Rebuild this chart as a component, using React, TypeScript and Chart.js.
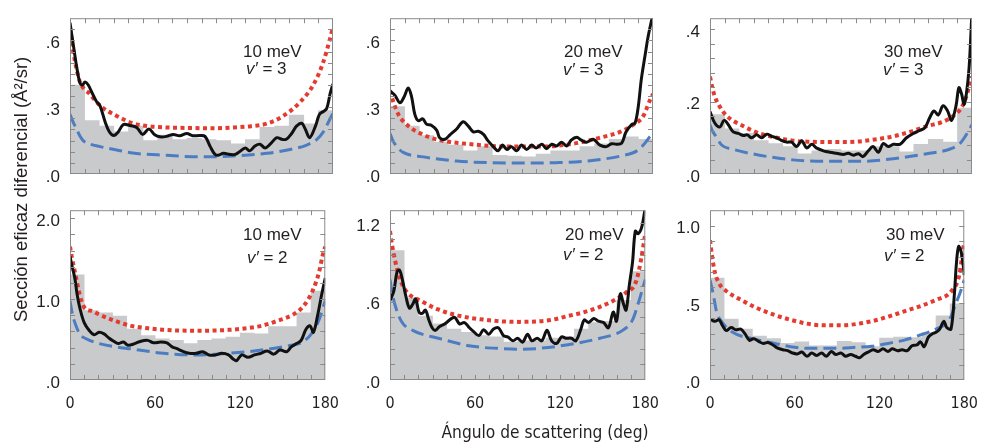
import React, { useEffect, useRef } from "react";
import { Chart, registerables } from "chart.js";

Chart.register(...registerables);

type Pt = [number, number];

// ---------------- DATA ----------------
const ANGLE_TICKS = [0, 60, 120, 180];
const BIN_CENTERS = [5, 15, 25, 35, 45, 55, 65, 75, 85, 95, 105, 115, 125, 135, 145, 155, 165, 175];

const ENERGY_LABELS = ["10 meV", "20 meV", "30 meV", "10 meV", "20 meV", "30 meV"];
const V_LABELS = ["3", "3", "3", "2", "2", "2"];

// Panel 1: 10 meV, v' = 3
const P1_HIST = [0.40, 0.24, 0.215, 0.19, 0.215, 0.15, 0.175, 0.155, 0.16, 0.155, 0.15, 0.135, 0.155, 0.21, 0.215, 0.265, 0.225, 0.285];
const P1_EXP: Pt[] = [[0,0.68],[2.5,0.57],[4.6,0.48],[6.8,0.41],[8.5,0.40],[10.3,0.413],[12.5,0.40],[15,0.366],[18,0.327],[20.5,0.307],[24,0.235],[27,0.189],[30,0.173],[33,0.189],[36.5,0.222],[41,0.218],[45.6,0.209],[49.7,0.178],[54,0.202],[58,0.176],[61.6,0.167],[66,0.169],[70.7,0.178],[75,0.172],[80,0.182],[84,0.172],[89,0.173],[92.4,0.169],[96,0.123],[99,0.09],[101.5,0.084],[105,0.093],[109.5,0.088],[113,0.088],[116,0.10],[120,0.117],[123,0.104],[126.6,0.126],[130,0.134],[133.5,0.117],[137,0.134],[141.5,0.163],[145,0.156],[148,0.156],[151.7,0.182],[155,0.215],[158.6,0.228],[161,0.202],[164,0.163],[168,0.215],[170.7,0.268],[173.4,0.281],[175.7,0.294],[178,0.36],[180,0.405]];
const P1_RED: Pt[] = [[0,0.66],[2,0.56],[4.5,0.47],[7,0.41],[10,0.38],[12.5,0.366],[20.5,0.307],[32,0.261],[43,0.228],[55,0.214],[66,0.209],[80,0.207],[90,0.206],[100,0.206],[112,0.209],[124,0.215],[134.6,0.226],[146,0.261],[157,0.32],[166.5,0.40],[173.4,0.504],[178,0.609],[180,0.66]];
const P1_BLUE: Pt[] = [[0,0.268],[2,0.235],[4.5,0.202],[7,0.168],[9,0.15],[13.7,0.134],[20.5,0.123],[32,0.108],[43,0.094],[66,0.084],[89,0.077],[112,0.081],[134.6,0.093],[150.6,0.11],[162,0.13],[169,0.156],[173.4,0.189],[177,0.235],[180,0.274]];

// Panel 2: 20 meV, v' = 3
const P2_HIST = [0.303, 0.215, 0.173, 0.143, 0.13, 0.104, 0.123, 0.084, 0.08, 0.077, 0.09, 0.104, 0.104, 0.123, 0.136, 0.156, 0.167, 0.156];
const P2_EXP: Pt[] = [[0,0.373],[3.4,0.353],[6.8,0.32],[9.6,0.346],[12.5,0.386],[14.8,0.346],[17,0.268],[19.4,0.239],[22.4,0.248],[25,0.224],[28.5,0.218],[32,0.196],[34,0.163],[37.6,0.156],[41,0.176],[45.6,0.202],[50,0.235],[53.6,0.215],[57,0.189],[60.5,0.192],[64,0.178],[67,0.15],[70.7,0.123],[74,0.104],[77,0.13],[80,0.11],[83,0.123],[86.7,0.104],[90,0.13],[93.5,0.11],[97,0.13],[100,0.117],[104,0.134],[107,0.114],[110.7,0.134],[114,0.126],[117.5,0.143],[121,0.126],[124,0.152],[127.8,0.165],[131,0.152],[134.6,0.143],[139,0.156],[143.7,0.13],[148,0.123],[151.7,0.136],[155,0.134],[158.6,0.139],[161.5,0.189],[165.4,0.222],[167.7,0.228],[170,0.307],[172,0.425],[174.5,0.53],[176.8,0.622],[180,0.72]];
const P2_RED: Pt[] = [[0,0.373],[2.5,0.32],[5.7,0.268],[11.4,0.222],[22.8,0.176],[34,0.152],[57,0.133],[80,0.123],[102.7,0.123],[125.5,0.136],[143.7,0.163],[157.4,0.189],[166.5,0.222],[173.4,0.261],[178,0.333],[180,0.36]];
const P2_BLUE: Pt[] = [[0,0.182],[2,0.15],[4.6,0.123],[9,0.097],[22.8,0.077],[45.6,0.058],[68,0.051],[91,0.049],[114,0.051],[137,0.06],[160,0.084],[169,0.104],[173.4,0.13],[178,0.169],[180,0.182]];

// Panel 3: 30 meV, v' = 3
const P3_HIST = [0.164, 0.125, 0.112, 0.092, 0.084, 0.076, 0.056, 0.064, 0.068, 0.064, 0.064, 0.076, 0.076, 0.061, 0.082, 0.096, 0.088, 0.182];
const P3_EXP: Pt[] = [[0,0.172],[3.4,0.14],[6.9,0.13],[9.6,0.148],[12.6,0.136],[16,0.116],[19.5,0.112],[23,0.106],[25.6,0.108],[28.6,0.1],[32,0.108],[35.5,0.1],[39,0.11],[42.4,0.104],[45.8,0.1],[49,0.093],[52.7,0.088],[56,0.088],[59.5,0.076],[63,0.092],[66.4,0.072],[70,0.082],[73,0.072],[78,0.064],[82.4,0.06],[87,0.057],[91.6,0.054],[95,0.057],[98.5,0.052],[102,0.056],[105,0.048],[108.8,0.064],[112,0.076],[115.6,0.06],[119,0.084],[122.5,0.076],[126,0.082],[130.5,0.082],[135,0.1],[139.7,0.112],[144,0.12],[147.7,0.128],[151,0.156],[153.9,0.174],[156.9,0.163],[160,0.188],[163,0.176],[166,0.148],[169,0.188],[171,0.238],[172.9,0.22],[174.5,0.192],[176,0.217],[178,0.293],[180,0.45]];
const P3_RED: Pt[] = [[0,0.269],[1.5,0.24],[3.4,0.213],[7,0.184],[11.5,0.16],[23,0.132],[34,0.112],[46,0.1],[57,0.092],[68.7,0.089],[80,0.088],[91.6,0.088],[103,0.09],[114.5,0.096],[126,0.104],[137,0.116],[149,0.132],[160,0.144],[167,0.16],[172.9,0.184],[176,0.213],[178,0.24],[180,0.269]];
const P3_BLUE: Pt[] = [[0,0.136],[1.5,0.12],[3.4,0.108],[8,0.08],[16,0.068],[34,0.052],[57,0.039],[80,0.035],[103,0.035],[126,0.042],[149,0.056],[165,0.069],[171.7,0.084],[176,0.108],[180,0.136]];

// Panel 4: 10 meV, v' = 2
const P4_HIST = [1.3, 0.86, 0.83, 0.79, 0.63, 0.55, 0.51, 0.49, 0.45, 0.49, 0.51, 0.53, 0.58, 0.57, 0.66, 0.66, 0.83, 1.1];
const P4_EXP: Pt[] = [[0,1.53],[1.5,1.4],[3.4,1.26],[5,1.06],[6.8,0.9],[10,0.71],[13.7,0.61],[17,0.56],[20.5,0.59],[24,0.57],[27.4,0.52],[30.8,0.48],[34,0.45],[37.6,0.47],[41,0.43],[45.6,0.45],[50,0.48],[54.8,0.49],[59,0.46],[64,0.47],[68.4,0.46],[72,0.41],[75,0.39],[80,0.35],[84,0.33],[89,0.33],[93.5,0.35],[98,0.31],[102.7,0.31],[107,0.33],[111.8,0.31],[115,0.26],[117.5,0.24],[121,0.31],[125.5,0.28],[130,0.31],[134.6,0.33],[139,0.36],[143.7,0.32],[148,0.37],[152.8,0.35],[156,0.41],[159.7,0.45],[163,0.49],[166.5,0.63],[169.3,0.67],[171.6,0.59],[174.5,0.79],[177.5,1.06],[180,1.26]];
const P4_RED: Pt[] = [[0,1.65],[1.5,1.5],[3.4,1.34],[6.8,1.06],[10,0.9],[16,0.85],[20.5,0.81],[32,0.73],[43,0.67],[55,0.64],[66,0.62],[89,0.61],[112,0.62],[135,0.67],[146,0.73],[157.4,0.81],[164,0.9],[171,1.1],[175.7,1.34],[178,1.53],[180,1.65]];
const P4_BLUE: Pt[] = [[0,0.98],[1.5,0.83],[3.4,0.71],[6.8,0.57],[11.4,0.51],[20.5,0.45],[32,0.41],[43,0.385],[66,0.33],[89,0.31],[112,0.33],[135,0.37],[153,0.42],[164,0.47],[171,0.59],[175.7,0.75],[180,0.98]];

// Panel 5: 20 meV, v' = 2
const P5_HIST = [0.99, 0.63, 0.49, 0.43, 0.39, 0.365, 0.34, 0.33, 0.29, 0.30, 0.30, 0.32, 0.33, 0.39, 0.44, 0.45, 0.61, 0.83];
const P5_EXP: Pt[] = [[0,0.61],[2.7,0.68],[5,0.83],[6.8,0.84],[9,0.755],[11.4,0.63],[13.7,0.55],[16,0.58],[18,0.62],[20.5,0.52],[22.8,0.51],[25,0.535],[27.4,0.46],[29.7,0.40],[32,0.38],[35,0.41],[38.8,0.43],[42,0.46],[45.6,0.48],[49,0.43],[52.5,0.44],[56,0.40],[59,0.37],[62.7,0.34],[66,0.385],[69.6,0.35],[73,0.39],[76.4,0.40],[80,0.34],[83,0.33],[86.7,0.30],[90,0.32],[93.5,0.29],[97,0.35],[100,0.30],[103.8,0.32],[107,0.30],[110.7,0.38],[114,0.30],[117.5,0.28],[121,0.33],[124,0.32],[127.8,0.32],[131,0.30],[134.6,0.39],[137,0.46],[140,0.44],[143.7,0.47],[147,0.45],[150.6,0.44],[154,0.40],[157.4,0.52],[159.7,0.45],[162.4,0.66],[164.7,0.58],[166.5,0.535],[168.8,0.73],[171,0.90],[173,1.14],[175,1.12],[177.5,1.17],[180,1.32]];
const P5_RED: Pt[] = [[0,1.14],[1.5,1.03],[3.4,0.925],[6.8,0.78],[11.4,0.68],[22.8,0.60],[34,0.54],[45.6,0.50],[57,0.475],[68,0.46],[80,0.448],[91,0.445],[102.7,0.448],[114,0.46],[125.5,0.49],[137,0.52],[148,0.56],[159.7,0.62],[166.5,0.67],[173.4,0.75],[177,0.92],[180,1.12]];
const P5_BLUE: Pt[] = [[0,0.77],[1.5,0.67],[3.4,0.58],[8,0.45],[16,0.38],[34,0.32],[57,0.26],[80,0.24],[91,0.236],[102.7,0.24],[125.5,0.27],[148,0.32],[164,0.38],[171,0.46],[175.7,0.61],[180,0.77]];

// Panel 6: 30 meV, v' = 2
const P6_HIST = [0.66, 0.395, 0.33, 0.284, 0.268, 0.237, 0.247, 0.222, 0.222, 0.251, 0.243, 0.216, 0.272, 0.278, 0.274, 0.309, 0.416, 0.494];
const P6_EXP: Pt[] = [[0,0.395],[3.4,0.38],[6.4,0.39],[9,0.35],[11.5,0.32],[15,0.34],[18.3,0.325],[21.8,0.33],[24.7,0.30],[28,0.257],[31,0.268],[34.4,0.25],[37.8,0.237],[41,0.243],[44.6,0.227],[48,0.206],[51.5,0.196],[55,0.19],[58.4,0.175],[61.8,0.169],[65,0.181],[68.7,0.154],[72,0.175],[75.6,0.159],[79,0.175],[82.4,0.154],[85.9,0.185],[89,0.165],[92.7,0.175],[96,0.154],[99.6,0.165],[103,0.154],[105.8,0.144],[108.8,0.165],[112,0.181],[115.6,0.196],[119,0.185],[122.5,0.202],[126,0.185],[129,0.202],[132.8,0.19],[136,0.196],[139.7,0.19],[143,0.222],[146.5,0.227],[149,0.247],[151.6,0.216],[154.6,0.278],[157.5,0.30],[160,0.309],[162.6,0.33],[165.5,0.38],[167.6,0.34],[170.6,0.33],[173,0.556],[174.5,0.762],[176,0.865],[177.7,0.834],[179,0.762],[180,0.68]];
const P6_RED: Pt[] = [[0,0.906],[1.5,0.8],[3.4,0.70],[6.8,0.62],[11.4,0.577],[22.8,0.515],[34,0.463],[57,0.39],[80,0.354],[91.6,0.354],[114.5,0.381],[137,0.443],[160,0.519],[171,0.577],[176.5,0.68],[179.5,0.865],[180,0.88]];
const P6_BLUE: Pt[] = [[0,0.649],[2.3,0.556],[4.6,0.443],[8,0.381],[16,0.309],[30,0.268],[46,0.237],[57,0.216],[69,0.206],[80,0.206],[91.6,0.206],[103,0.212],[114.5,0.218],[126,0.237],[137,0.257],[149,0.292],[160,0.33],[169.5,0.391],[174,0.494],[177.5,0.577],[180,0.649]];

// y axes
const Y_MAX = [0.7, 0.7, 0.43, 2.1, 1.3, 1.1];
const Y_TICKS = [[0, 0.3, 0.6], [0, 0.3, 0.6], [0, 0.2, 0.4], [0, 1, 2], [0, 0.6, 1.2], [0, 0.5, 1.0]];
const Y_TICK_LABELS = [[".0", ".3", ".6"], [".0", ".3", ".6"], [".0", ".2", ".4"], [".0", "1.0", "2.0"], [".0", ".6", "1.2"], [".0", ".5", "1.0"]];
const Y_MINOR = [0.05, 0.05, 0.04, 0.2, 0.12, 0.1];

const HISTS = [P1_HIST, P2_HIST, P3_HIST, P4_HIST, P5_HIST, P6_HIST];
const EXPS = [P1_EXP, P2_EXP, P3_EXP, P4_EXP, P5_EXP, P6_EXP];
const REDS = [P1_RED, P2_RED, P3_RED, P4_RED, P5_RED, P6_RED];
const BLUES = [P1_BLUE, P2_BLUE, P3_BLUE, P4_BLUE, P5_BLUE, P6_BLUE];

// ---------------- LAYOUT / STYLE ----------------
const COL_L = [70, 390, 710];
const COL_R = [333, 653, 972];
const ROW_T = [10, 202];
const ROW_B = [188, 380];
const LABEL_POS: [number, number, number, number][] = [
  [243, 57, 246, 74.5],
  [564, 57, 563, 75],
  [884, 57, 883, 75],
  [243, 240.5, 247, 263],
  [565, 240, 563, 260],
  [886, 240, 884, 261.5],
];

const GRAY = "#c9cacc";
const RED = "#e53a2f";
const BLUE = "#4c7dc2";
const BLACK = "#111111";
const FRAME = "#8a8a8a";
const TEXT = "#231f20";
const SANS = '"Liberation Sans", Arial, Helvetica, sans-serif';
const NARROW = '"DejaVu Sans Condensed", "Liberation Sans", sans-serif';

const toXY = (pts: Pt[]) => pts.map(([x, y]) => ({ x, y }));

function Panel({ idx }: { idx: number }) {
  const ref = useRef<HTMLCanvasElement | null>(null);
  const col = idx % 3;
  const row = Math.floor(idx / 3);
  const L = COL_L[col], R = COL_R[col], T = ROW_T[row], B = ROW_B[row];
  const isBottom = row === 1;
  const padL = 60, padR = 20, padT = 12, padB = isBottom ? 34 : 14;
  const w = R - L + padL + padR;
  const h = B - T + padT + padB;

  useEffect(() => {
    const yMax = Y_MAX[idx];
    const minor = Y_MINOR[idx];
    const framePlugin = {
      id: "frameTicks",
      afterDatasetsDraw(chart: any) {
        const { ctx, chartArea: a, scales } = chart;
        ctx.save();
        ctx.strokeStyle = FRAME;
        ctx.lineWidth = 1;
        ctx.beginPath();
        for (let d = 10; d < 180; d += 10) {
          const px = Math.round(scales.x.getPixelForValue(d)) + 0.5;
          ctx.moveTo(px, a.bottom);
          ctx.lineTo(px, a.bottom - 5);
          ctx.moveTo(px, a.top);
          ctx.lineTo(px, a.top + 5);
        }
        for (let k = 1; k * minor < yMax - 1e-9; k++) {
          const py = Math.round(scales.y.getPixelForValue(k * minor)) + 0.5;
          ctx.moveTo(a.left, py);
          ctx.lineTo(a.left + 5, py);
          ctx.moveTo(a.right, py);
          ctx.lineTo(a.right - 5, py);
        }
        ctx.stroke();
        ctx.strokeRect(a.left + 0.5, a.top + 0.5, a.right - a.left - 1, a.bottom - a.top - 1);
        ctx.restore();
      },
    };

    const chart = new Chart(ref.current as HTMLCanvasElement, {
      type: "bar",
      data: {
        datasets: [
          {
            type: "line",
            label: "Experimento",
            data: toXY(EXPS[idx]),
            borderColor: BLACK,
            borderWidth: 3,
            pointRadius: 0,
            tension: 0.35,
            borderJoinStyle: "round",
            order: 1,
          } as any,
          {
            type: "line",
            label: "Modelo A",
            data: toXY(REDS[idx]),
            borderColor: RED,
            borderWidth: 4,
            borderDash: [4, 3.5],
            pointRadius: 0,
            cubicInterpolationMode: "monotone",
            order: 2,
          } as any,
          {
            type: "line",
            label: "Modelo B",
            data: toXY(BLUES[idx]),
            borderColor: BLUE,
            borderWidth: 3,
            borderDash: [13, 6],
            pointRadius: 0,
            cubicInterpolationMode: "monotone",
            order: 3,
          } as any,
          {
            type: "bar",
            label: "Histograma",
            data: BIN_CENTERS.map((x, i) => ({ x, y: HISTS[idx][i] })),
            backgroundColor: GRAY,
            borderWidth: 0,
            barPercentage: 1,
            categoryPercentage: 1,
            order: 4,
          } as any,
        ],
      },
      options: {
        responsive: false,
        animation: false,
        devicePixelRatio: 1,
        layout: { padding: { left: 0, right: padR, top: padT, bottom: isBottom ? 0 : padB } },
        plugins: { legend: { display: false }, tooltip: { enabled: false } },
        scales: {
          x: {
            type: "linear",
            min: 0,
            max: 180,
            offset: false,
            display: isBottom,
            grid: { display: false, drawTicks: false },
            border: { display: false },
            afterBuildTicks: (s: any) => {
              s.ticks = ANGLE_TICKS.map((v) => ({ value: v }));
            },
            afterFit: (s: any) => {
              s.height = padB;
            },
            ticks: {
              padding: 14,
              maxRotation: 0,
              autoSkip: false,
              color: TEXT,
              font: { family: NARROW, size: 16 },
              callback: (v: any) => String(v),
            },
          },
          y: {
            type: "linear",
            min: 0,
            max: yMax,
            grid: { display: false, drawTicks: false },
            border: { display: false },
            afterBuildTicks: (s: any) => {
              s.ticks = Y_TICKS[idx].map((v) => ({ value: v }));
            },
            afterFit: (s: any) => {
              s.width = padL;
            },
            ticks: {
              padding: 10,
              labelOffset: 3,
              autoSkip: false,
              color: TEXT,
              font: { family: SANS, size: 17 },
              callback: (_v: any, i: number) => Y_TICK_LABELS[idx][i],
            },
          },
        },
      } as any,
      plugins: [framePlugin],
    });
    return () => chart.destroy();
  }, [idx]);

  return (
    <canvas
      ref={ref}
      width={w}
      height={h}
      style={{ position: "absolute", left: L - padL, top: T - padT, width: w, height: h }}
    />
  );
}

function PanelLabel({ idx }: { idx: number }) {
  const [x1, b1, x2, b2] = LABEL_POS[idx];
  const size = 17;
  const base = 0.8465 * size;
  const common: React.CSSProperties = {
    position: "absolute",
    fontFamily: SANS,
    fontSize: size,
    lineHeight: `${size}px`,
    color: TEXT,
    whiteSpace: "nowrap",
  };
  return (
    <>
      <div style={{ ...common, left: x1, top: b1 - base }}>{ENERGY_LABELS[idx]}</div>
      <div style={{ ...common, left: x2, top: b2 - base }}>
        <span style={{ fontStyle: "italic" }}>v′</span> = {V_LABELS[idx]}
      </div>
    </>
  );
}

export default function App() {
  return (
    <div
      style={{
        position: "absolute",
        left: 0,
        top: 0,
        width: 1001,
        height: 448,
        background: "#ffffff",
        overflow: "hidden",
      }}
    >
      {[0, 1, 2, 3, 4, 5].map((i) => (
        <Panel key={i} idx={i} />
      ))}
      {[0, 1, 2, 3, 4, 5].map((i) => (
        <PanelLabel key={"l" + i} idx={i} />
      ))}
      <div
        style={{
          position: "absolute",
          left: 12,
          top: 322,
          transformOrigin: "left top",
          transform: "rotate(-90deg)",
          fontFamily: SANS,
          fontSize: 18.5,
          lineHeight: "18.5px",
          color: TEXT,
          whiteSpace: "nowrap",
        }}
      >
        Sección eficaz diferencial (Å²/sr)
      </div>
      <div
        style={{
          position: "absolute",
          left: 545,
          top: 424,
          transform: "translateX(-50%)",
          fontFamily: NARROW,
          fontSize: 17.2,
          lineHeight: "17.2px",
          color: TEXT,
          whiteSpace: "nowrap",
        }}
      >
        Ángulo de scattering (deg)
      </div>
    </div>
  );
}
